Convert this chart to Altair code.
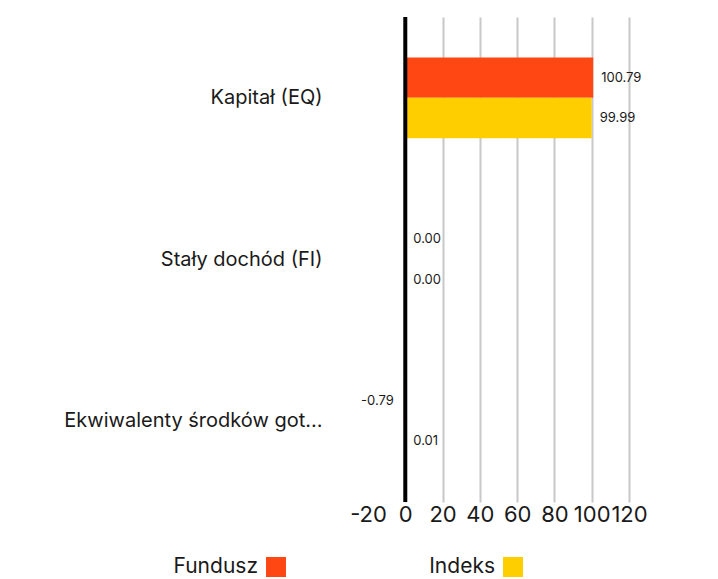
import altair as alt
import pandas as pd

categories = ["Kapitał (EQ)", "Stały dochód (FI)", "Ekwiwalenty środków gotówkowych"]
series_names = ["Fundusz", "Indeks"]
fund_values = [100.79, 0.00, -0.79]
index_values = [99.99, 0.00, 0.01]
series_colors = ["#ff4713", "#ffce00"]
x_ticks = [-20, 0, 20, 40, 60, 80, 100, 120]

rows = []
for c, f, i in zip(categories, fund_values, index_values):
    rows.append({"cat": c, "series": series_names[0], "value": f})
    rows.append({"cat": c, "series": series_names[1], "value": i})
df = pd.DataFrame(rows)

FONT = "Inter"
TXT = "#1a1a1a"
color_scale = alt.Scale(domain=series_names, range=series_colors)

y = alt.Y(
    "cat:N", sort=categories,
    scale=alt.Scale(paddingInner=0.5, paddingOuter=0.25),
    axis=alt.Axis(title=None, labelFontSize=20, labelPadding=46, labelLimit=262,
                  ticks=False, domain=False, labelColor=TXT, labelFont=FONT, grid=False),
)
yoff = alt.YOffset("series:N", sort=series_names,
                   scale=alt.Scale(paddingInner=0, paddingOuter=0))
x = alt.X(
    "value:Q",
    scale=alt.Scale(domain=[-20, 120], nice=False, zero=False),
    axis=alt.Axis(
        title=None, values=x_ticks, labelFontSize=22, ticks=False, domain=False,
        labelPadding=2, labelColor=TXT, labelFont=FONT, grid=True,
        labelOverlap=False, labelFlush=False,
        labelExpr="replace(datum.label, '\u2212', '-')",
        gridColor={"condition": {"test": "datum.value === -20", "value": "transparent"},
                   "value": "#c8c8c8"},
        gridWidth=2,
    ),
)

base = alt.Chart(df).transform_calculate(
    lbl="replace(format(datum.value, '.2f'), '\u2212', '-')"
)
bars = base.mark_bar().encode(
    x=x, y=y, yOffset=yoff,
    color=alt.Color("series:N", scale=color_scale, legend=None),
)
pos_text = base.transform_filter("datum.value >= 0").mark_text(
    align="left", baseline="middle", dx=8, fontSize=13, font=FONT, color=TXT
).encode(x=x, y=y, yOffset=yoff, text="lbl:N")
neg_text = base.transform_filter("datum.value < 0").mark_text(
    align="right", baseline="middle", dx=-10, fontSize=13, font=FONT, color=TXT
).encode(x=x, y=y, yOffset=yoff, text="lbl:N")
zero_rule = alt.Chart(pd.DataFrame({"value": [0]})).mark_rule(
    color="#000000", strokeWidth=4
).encode(x=x)

main = alt.layer(bars, zero_rule, pos_text, neg_text).properties(width=261, height=485)

legend_df = pd.DataFrame({"series": series_names})
leg_base = alt.Chart(legend_df).encode(
    x=alt.X("series:N", sort=series_names, axis=None,
            scale=alt.Scale(type="point", range=[-92, 145], padding=0))
)
leg_sq = leg_base.mark_square(size=400, opacity=1).encode(
    color=alt.Color("series:N", scale=color_scale, legend=None)
)
leg_tx = leg_base.mark_text(align="right", baseline="middle", fontSize=21, font=FONT,
                            color=TXT, dx=-18).encode(text="series:N")
legend = alt.layer(leg_tx, leg_sq).properties(width=100, height=20)

chart = alt.vconcat(main, legend, spacing=31).properties(
    padding={"left": 55, "top": 7, "right": 5, "bottom": 0}
).configure(font=FONT).configure_view(strokeWidth=0)

chart.save("out.html", embed_options={"renderer": "svg", "actions": False})
